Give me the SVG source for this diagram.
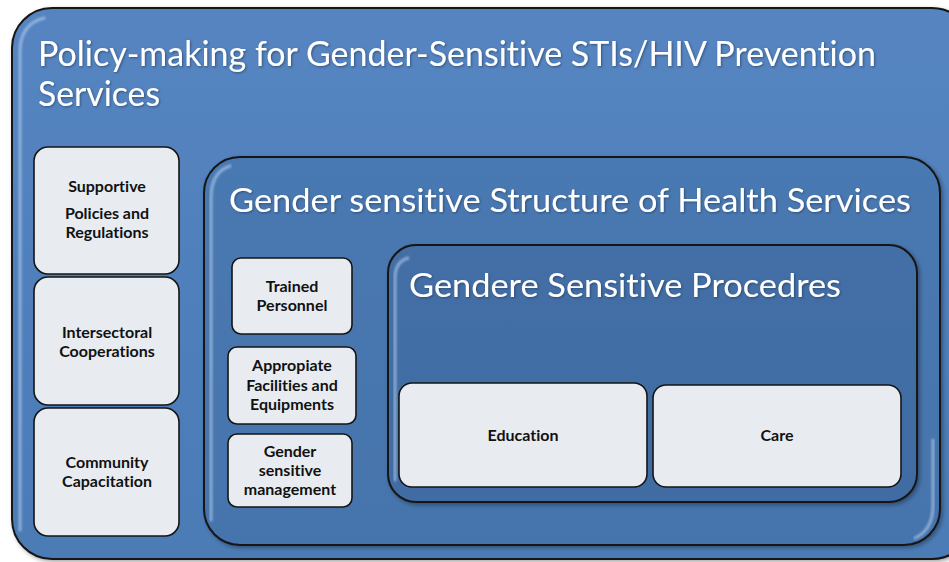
<svg xmlns="http://www.w3.org/2000/svg" width="949" height="562" viewBox="0 0 949 562">
  <defs>
    <linearGradient id="gOuter" x1="0" y1="0" x2="0" y2="1">
      <stop offset="0" stop-color="#5585c1"/>
      <stop offset="1" stop-color="#4b7bb6"/>
    </linearGradient>
    <linearGradient id="gMid" x1="0" y1="0" x2="0" y2="1">
      <stop offset="0" stop-color="#4a79b2"/>
      <stop offset="1" stop-color="#4573ab"/>
    </linearGradient>
    <linearGradient id="gIn" x1="0" y1="0" x2="0" y2="1">
      <stop offset="0" stop-color="#436fa6"/>
      <stop offset="1" stop-color="#3f6ca3"/>
    </linearGradient>
    <filter id="shadow" x="-10%" y="-10%" width="120%" height="120%">
      <feDropShadow dx="2" dy="2" stdDeviation="2" flood-color="#000" flood-opacity="0.35"/>
    </filter>
    <filter id="tshadow" x="-5%" y="-20%" width="110%" height="140%">
      <feDropShadow dx="1" dy="1" stdDeviation="0.8" flood-color="#1d3350" flood-opacity="0.6"/>
    </filter>
    <filter id="blur"><feGaussianBlur stdDeviation="0.8"/></filter>
  </defs>
  <style>
    .container { stroke: #151515; stroke-width: 2; }
    .hl { fill: none; stroke: #bcd3ef; stroke-width: 3; stroke-linecap: round; opacity: 0.6; filter: url(#blur); }
    .box { fill: #e8ecf1; stroke: #151515; stroke-width: 1.6; }
    .title { fill: #ffffff; font-family: "Lato", "Open Sans", "Liberation Sans", sans-serif; font-variant-ligatures: none; }
    .lbl { fill: #111111; font-family: "Lato", "Open Sans", "Liberation Sans", sans-serif; font-weight: bold; font-size: 16px; text-anchor: middle; font-variant-ligatures: none; }
  </style>

  <g id="policy-making">
    <rect class="container" x="12" y="8" width="960" height="551" rx="40" fill="url(#gOuter)" filter="url(#shadow)"/>
    <path class="hl" d="M20 530 L20 52 Q20 24 44 18"/>
    <text class="title" font-size="35" filter="url(#tshadow)">
      <tspan x="38" y="66" textLength="838" lengthAdjust="spacingAndGlyphs">Policy-making for Gender-Sensitive STIs/HIV Prevention</tspan>
      <tspan x="38" y="106" textLength="122" lengthAdjust="spacingAndGlyphs">Services</tspan>
    </text>
  </g>

  <g id="supportive-policies">
    <rect class="box" x="34" y="147" width="145" height="127" rx="14"/>
    <text class="lbl"><tspan x="107" y="192">Supportive</tspan><tspan x="107" y="219">Policies and</tspan><tspan x="107" y="238">Regulations</tspan></text>
  </g>
  <g id="intersectoral">
    <rect class="box" x="34" y="277" width="145" height="128" rx="14"/>
    <text class="lbl"><tspan x="107" y="338">Intersectoral</tspan><tspan x="107" y="357">Cooperations</tspan></text>
  </g>
  <g id="community">
    <rect class="box" x="34" y="408" width="145" height="128" rx="14"/>
    <text class="lbl"><tspan x="107" y="468">Community</tspan><tspan x="107" y="487">Capacitation</tspan></text>
  </g>

  <g id="structure">
    <rect class="container" x="204" y="157" width="736" height="388" rx="36" fill="url(#gMid)" filter="url(#shadow)"/>
    <path class="hl" d="M211 520 L211 198 Q211 172 230 166"/>
    <path class="hl" d="M933 440 L933 505 Q933 530 915 538" opacity="0.5"/>
    <text class="title" font-size="32" filter="url(#tshadow)" x="229" y="212" textLength="682" lengthAdjust="spacingAndGlyphs">Gender sensitive Structure of Health Services</text>
  </g>

  <g id="trained-personnel">
    <rect class="box" x="232" y="258" width="120" height="76" rx="9"/>
    <text class="lbl"><tspan x="292" y="292">Trained</tspan><tspan x="292" y="311">Personnel</tspan></text>
  </g>
  <g id="facilities">
    <rect class="box" x="228" y="347" width="128" height="77" rx="9"/>
    <text class="lbl"><tspan x="292" y="371">Appropiate</tspan><tspan x="292" y="391">Facilities and</tspan><tspan x="292" y="410">Equipments</tspan></text>
  </g>
  <g id="management">
    <rect class="box" x="228" y="434" width="124" height="73" rx="9"/>
    <text class="lbl"><tspan x="290" y="457">Gender</tspan><tspan x="290" y="476">sensitive</tspan><tspan x="290" y="495">management</tspan></text>
  </g>

  <g id="procedures">
    <rect class="container" x="388" y="245" width="529" height="257" rx="28" fill="url(#gIn)" filter="url(#shadow)"/>
    <path class="hl" d="M395 480 L395 278 Q395 262 408 258" opacity="0.5"/>
    <path class="hl" d="M910 272 L910 480" opacity="0.35"/>
    <text class="title" font-size="32" filter="url(#tshadow)" x="409" y="297" textLength="432" lengthAdjust="spacingAndGlyphs">Gendere Sensitive Procedres</text>
  </g>

  <g id="education">
    <rect class="box" x="399" y="383" width="248" height="104" rx="13"/>
    <text class="lbl" x="523" y="441">Education</text>
  </g>
  <g id="care">
    <rect class="box" x="653" y="385" width="248" height="102" rx="13"/>
    <text class="lbl" x="777" y="441">Care</text>
  </g>

  <g id="connectors"></g>
</svg>
